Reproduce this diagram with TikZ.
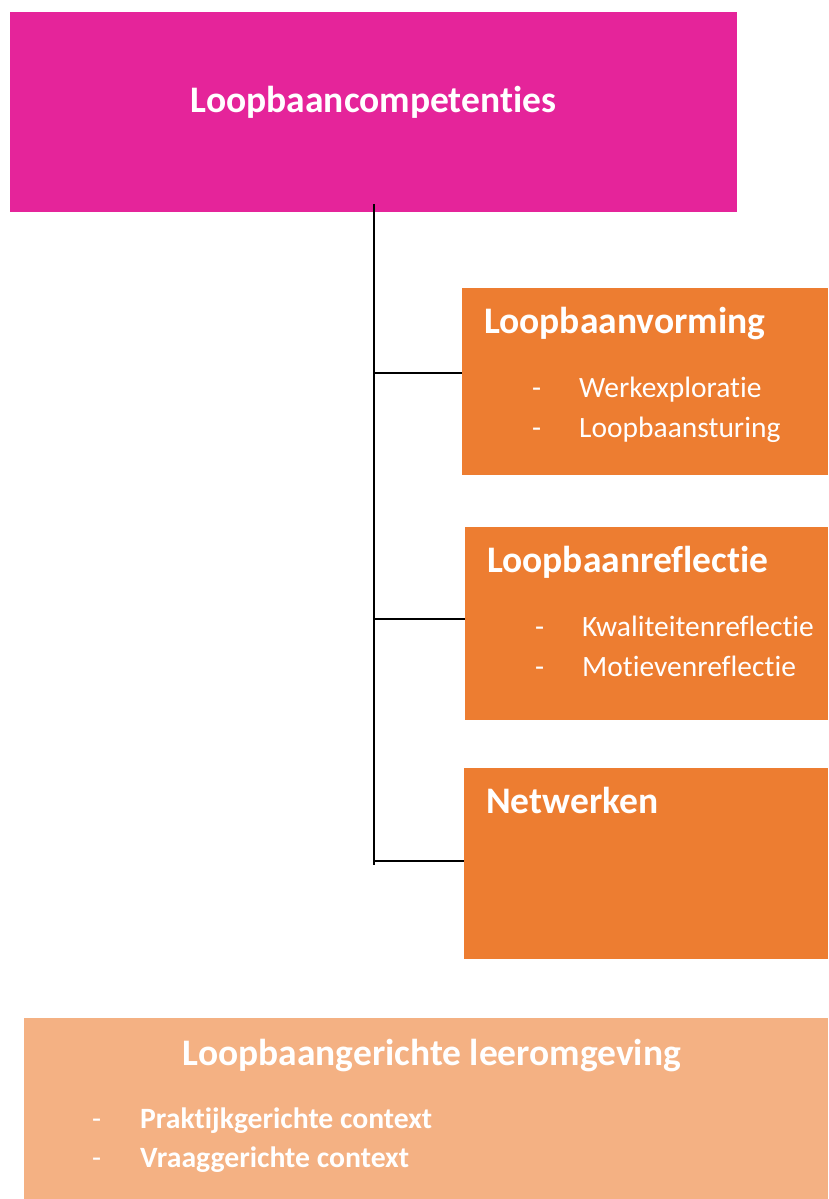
\documentclass[tikz,border=0pt]{standalone}
\usepackage{fontspec}
\setmainfont[Ligatures={NoCommon}]{Carlito}
\usepackage{graphicx}
\definecolor{pinkc}{HTML}{E5249A}
\definecolor{orangec}{HTML}{ED7D31}
\definecolor{lightc}{HTML}{F4B183}
\tikzset{
  box/.style={fill=#1, draw=none, anchor=north west, inner sep=0pt, outer sep=0pt},
  ttl/.style={anchor=base west, inner sep=0pt, text=white, font=\fontsize{37.5}{42}\selectfont\bfseries},
  itm/.style={anchor=base west, inner sep=0pt, text=white, font=\fontsize{29.5}{34}\selectfont},
  conn/.style={line width=2.6pt, black},
}
\begin{document}
\begin{tikzpicture}[x=1pt,y=-1pt]
\useasboundingbox (0,0) rectangle (828,1199);
% boxes
\node[box=pinkc, minimum width=727pt, minimum height=200pt] (top) at (10,12) {};
\node[box=orangec, minimum width=366pt, minimum height=187pt] (b1) at (462,288) {};
\node[box=orangec, minimum width=363pt, minimum height=193pt] (b2) at (465,527) {};
\node[box=orangec, minimum width=364pt, minimum height=191pt] (b3) at (464,768) {};
\node[box=lightc, minimum width=804pt, minimum height=181pt] (b4) at (24,1018) {};
% texts
\node[ttl, anchor=base] (ttop) at (373.5,112) {Loopbaancompetenties};
\node[ttl] (t1) at (484,333) {Loopbaanvorming};
\node[itm] (d11) at (532,397) {-};
\node[itm] (i11) at (579,397) {Werkexploratie};
\node[itm] (d12) at (532,437) {-};
\node[itm] (i12) at (579,437) {Loopbaansturing};
\node[ttl] (t2) at (487,572) {Loopbaanreflectie};
\node[itm] (d21) at (535,636) {-};
\node[itm] (i21) at (582,636) {Kwaliteitenreflectie};
\node[itm] (d22) at (535,676) {-};
\node[itm] (i22) at (582,676) {Motievenreflectie};
\node[ttl] (t3) at (486,813) {Netwerken};
\node[ttl, anchor=base] (t4) at (432,1065) {\resizebox{498pt}{\height}{Loopbaangerichte leeromgeving}};
\node[itm] (d41) at (92,1128) {-};
\node[itm, font=\fontsize{29.5}{34}\selectfont\bfseries] (i41) at (140,1128) {\resizebox{292pt}{\height}{Praktijkgerichte context}};
\node[itm] (d42) at (92,1167) {-};
\node[itm, font=\fontsize{29.5}{34}\selectfont\bfseries] (i42) at (140,1167) {\resizebox{269pt}{\height}{Vraaggerichte context}};
% connectors
\coordinate (s0) at (374,204);
\coordinate (s1) at (374,373);
\coordinate (s2) at (375,619);
\coordinate (s3) at (373,861);
\draw[conn] (s0) -- (374,865);
\draw[conn] (s1) -- (s1 -| b1.west);
\draw[conn] (s2) -- (s2 -| b2.west);
\draw[conn] (s3) -- (s3 -| b3.west);
\end{tikzpicture}
\end{document}
